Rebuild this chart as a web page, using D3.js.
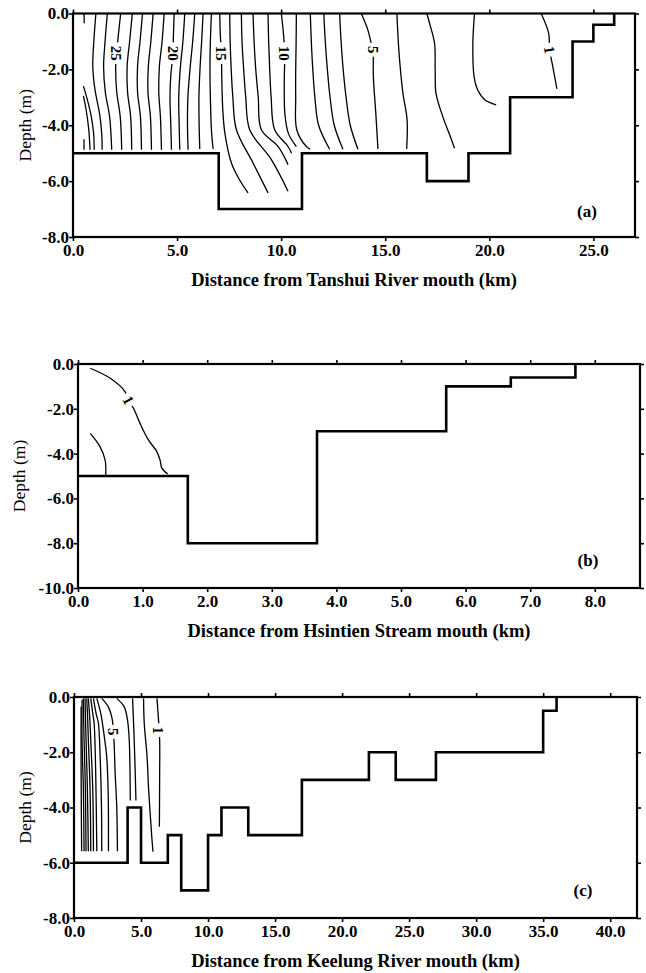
<!DOCTYPE html>
<html><head><meta charset="utf-8">
<script src="https://cdn.jsdelivr.net/npm/d3@7"></script>
<style>
body{margin:0;background:#fff;}
svg{display:block;}
text{font-family:"Liberation Serif","Times New Roman",serif;fill:#000;}
</style></head><body>
<svg id="chart" width="646" height="973"></svg>
<script>
// ---------------- DATA ----------------
// Panel (a) Tanshui River
const ticksA_x = [0, 5, 10, 15, 20, 25];
const ticksA_y = [0, -2, -4, -6, -8];
const bedA_x = [0, 7, 11, 17, 19, 21, 24, 25, 26];
const bedA_d = [-5, -7, -5, -6, -5, -3, -1, -0.4];
const contA = [
  {v:1,  pts:[[22.49,0],[22.85,-0.7],[22.9,-1.3],[23.05,-1.9],[23.25,-2.7]]},
  {v:2,  pts:[[19.29,0],[19.21,-1.07],[19.27,-2.26],[19.45,-2.75],[19.8,-3.1],[20.33,-3.27]]},
  {v:3,  pts:[[17.0,0],[17.13,-0.35],[17.37,-1.07],[17.4,-2.0],[17.44,-2.86],[17.77,-3.7],[18.1,-4.35],[18.33,-4.82]]},
  {v:4,  pts:[[15.56,0],[15.62,-0.9],[15.69,-1.66],[15.85,-2.85],[16.05,-3.8],[16.03,-4.85]]},
  {v:5,  pts:[[13.85,0],[14.15,-0.55],[14.33,-1.07],[14.41,-1.3],[14.43,-2.26],[14.55,-3.6],[14.65,-4.85]]},
  {v:6,  pts:[[12.81,0],[12.88,-1],[12.98,-2],[13.12,-3],[13.32,-4],[13.69,-4.86]]},
  {v:7,  pts:[[12.05,0],[12.12,-1],[12.22,-2],[12.35,-3],[12.55,-4],[12.97,-4.86]]},
  {v:8,  pts:[[11.4,0],[11.45,-1],[11.52,-2],[11.62,-3],[11.8,-4],[12.33,-4.86]]},
  {v:9,  pts:[[10.73,0],[10.72,-1],[10.7,-2],[10.7,-3],[10.75,-4.16],[11.21,-4.76],[11.4,-4.86]]},
  {v:10, pts:[[10.01,0],[10.12,-0.8],[10.17,-1.42],[10.15,-2.5],[10.18,-3.6],[10.35,-4.3],[10.73,-4.76]]},
  {v:11, pts:[[9.37,0],[9.4,-1],[9.45,-2],[9.52,-3],[9.69,-4.16],[10.33,-4.76],[10.5,-5.0]]},
  {v:12, pts:[[8.65,0],[8.7,-1],[8.78,-2],[8.9,-3],[9.05,-4.16],[9.85,-4.76],[10.33,-5.41]]},
  {v:13, pts:[[8.09,0],[8.12,-1],[8.2,-2],[8.3,-3],[8.49,-4.16],[9.53,-5.23],[10.33,-6.36]]},
  {v:14, pts:[[7.53,0],[7.55,-1],[7.6,-2],[7.68,-3],[7.85,-4.16],[8.65,-5.35],[9.37,-6.42]]},
  {v:15, pts:[[7.05,0],[7.08,-0.8],[7.13,-1.42],[7.15,-2.4],[7.2,-3.5],[7.3,-4.3],[7.61,-5.35],[8.0,-5.95],[8.41,-6.42]]},
  {v:16, pts:[[6.65,0],[6.6,-1],[6.58,-2],[6.6,-3],[6.65,-4.16],[6.73,-4.85]]},
  {v:17, pts:[[6.25,0],[6.18,-1],[6.1,-2],[6.05,-3],[6.06,-4],[6.09,-4.85]]},
  {v:18, pts:[[5.85,0],[5.75,-1],[5.62,-2],[5.52,-3],[5.5,-4],[5.53,-4.88]]},
  {v:19, pts:[[5.37,0],[5.28,-1],[5.15,-2],[5.08,-3],[5.1,-4],[5.13,-4.88]]},
  {v:20, pts:[[4.86,0],[4.82,-0.9],[4.81,-1.42],[4.7,-2.2],[4.66,-3.0],[4.7,-4.0],[4.73,-4.88]]},
  {v:21, pts:[[4.38,0],[4.28,-1],[4.15,-1.9],[4.12,-2.8],[4.2,-3.7],[4.25,-4.88]]},
  {v:22, pts:[[3.85,0],[3.74,-1],[3.62,-1.9],[3.6,-2.8],[3.72,-3.7],[3.77,-4.88]]},
  {v:23, pts:[[3.34,0],[3.22,-1],[3.1,-1.9],[3.1,-2.8],[3.24,-3.7],[3.29,-4.88]]},
  {v:24, pts:[[2.85,0],[2.72,-1],[2.6,-1.9],[2.62,-2.8],[2.77,-3.7],[2.82,-4.88]]},
  {v:25, pts:[[2.29,0],[2.16,-0.9],[2.09,-1.42],[2.05,-2.0],[2.1,-2.8],[2.27,-3.7],[2.34,-4.88]]},
  {v:26, pts:[[1.65,0],[1.54,-1],[1.47,-1.9],[1.55,-2.8],[1.76,-3.7],[1.86,-4.88]]},
  {v:27, pts:[[1.10,0],[1.0,-1],[0.95,-1.9],[1.05,-2.7],[1.28,-3.6],[1.38,-4.3],[1.40,-4.88]]},
  {v:28, pts:[[0.53,0],[0.54,-0.35]]},
  {v:28, pts:[[0.5,-2.6],[0.66,-3.0],[0.88,-3.7],[0.99,-4.3],[1.02,-4.88]]},
  {v:29, pts:[[0.5,-2.95],[0.62,-3.4],[0.75,-4.1],[0.82,-4.88]]},
  {v:30, pts:[[0.53,-4.5],[0.53,-4.88]]}
];
const labA = [
  {t:"25", x:2.09, d:-1.42, r:90},
  {t:"20", x:4.81, d:-1.42, r:90},
  {t:"15", x:7.13, d:-1.42, r:90},
  {t:"10", x:10.17, d:-1.42, r:90},
  {t:"5",  x:14.41, d:-1.3, r:90},
  {t:"1",  x:22.89, d:-1.3, r:80}
];

// Panel (b) Hsintien Stream
const ticksB_x = [0, 1, 2, 3, 4, 5, 6, 7, 8];
const ticksB_y = [0, -2, -4, -6, -8, -10];
const bedB_x = [0, 1.7, 3.7, 5.7, 6.7, 7.7];
const bedB_d = [-5, -8, -3, -1, -0.6];
const contB = [
  {v:1, pts:[[0.19,-0.19],[0.5,-0.64],[0.73,-1.24],[0.78,-1.61],[0.86,-1.98],[0.96,-2.65],[1.09,-3.39],[1.22,-3.91],[1.27,-4.29],[1.3,-4.66],[1.39,-4.91]]},
  {v:2, pts:[[0.19,-3.1],[0.34,-3.69],[0.42,-4.29],[0.43,-4.96]]}
];
const labB = [ {t:"1", x:0.78, d:-1.61, r:62} ];

// Panel (c) Keelung River
const ticksC_x = [0, 5, 10, 15, 20, 25, 30, 35, 40];
const ticksC_y = [0, -2, -4, -6, -8];
const bedC_x = [0, 4, 5, 7, 8, 10, 11, 13, 17, 22, 24, 27, 35, 36];
const bedC_d = [-6, -4, -6, -5, -7, -5, -4, -5, -3, -2, -3, -2, -0.5];
const contC = [
  {v:1,  pts:[[6.19,-0.05],[6.3,-0.8],[6.39,-1.56],[6.39,-2.77],[6.38,-3.8],[6.37,-4.7]]},
  {v:2,  pts:[[5.19,-0.05],[5.24,-0.95],[5.45,-2.16],[5.57,-3.37],[5.82,-5.18],[5.89,-5.6]]},
  {v:3,  pts:[[4.37,-0.05],[4.44,-0.9],[4.49,-1.56],[4.57,-2.77],[4.62,-3.75]]},
  {v:4,  pts:[[3.19,-0.05],[3.74,-0.35],[3.99,-0.83],[4.12,-1.56],[4.18,-2.77],[4.2,-3.75]]},
  {v:5,  pts:[[2.07,-0.05],[2.55,-0.35],[2.85,-0.8],[2.94,-1.26],[3.0,-1.75],[3.07,-2.77],[3.19,-3.97],[3.24,-5.58]]},
  {v:6,  pts:[[1.70,-0.05],[2.0,-0.6],[2.25,-1.4],[2.44,-2.16],[2.55,-3.5],[2.57,-5.58]]},
  {v:7,  pts:[[1.45,-0.05],[1.65,-0.6],[1.82,-0.95],[1.95,-2.16],[2.05,-3.97],[2.07,-5.58]]},
  {v:8,  pts:[[1.25,-0.05],[1.4,-0.6],[1.5,-0.95],[1.62,-2.77],[1.70,-5.58]]},
  {v:9,  pts:[[1.07,-0.05],[1.18,-0.8],[1.25,-1.56],[1.4,-3.37],[1.45,-5.58]]},
  {v:10, pts:[[0.95,-0.05],[1.02,-0.8],[1.07,-1.56],[1.2,-3.37],[1.25,-5.58]]},
  {v:11, pts:[[0.82,-0.05],[0.86,-0.8],[0.9,-1.56],[1.0,-3.37],[1.07,-5.58]]},
  {v:12, pts:[[0.70,-0.05],[0.72,-0.8],[0.75,-1.56],[0.85,-3.37],[0.9,-5.58]]},
  {v:13, pts:[[0.6,-0.1],[0.6,-1.56],[0.7,-3.37],[0.75,-5.58]]},
  {v:14, pts:[[0.53,-0.35],[0.53,-2.7],[0.57,-5.58]]}
];
const labC = [ {t:"5", x:2.94, d:-1.26, r:90}, {t:"1", x:6.3, d:-1.2, r:90} ];

// ---------------- DRAW ----------------
const svg = d3.select("#chart");
svg.append("rect").attr("width",646).attr("height",973).attr("fill","#fff");

const panels = [
  {l:73, r:635, t:13.5, b:237, xd:[0,27], yd:[-8,0], xt:ticksA_x, yt:ticksA_y, bx:bedA_x, bd:bedA_d, cont:contA, lab:labA,
   title:"Distance from Tanshui River mouth (km)", tb:286, letter:"(a)", lx:587, ly:217, yl:25},
  {l:78, r:640, t:364, b:588, xd:[0,8.7], yd:[-10,0], xt:ticksB_x, yt:ticksB_y, bx:bedB_x, bd:bedB_d, cont:contB, lab:labB,
   title:"Distance from Hsintien Stream mouth (km)", tb:637, letter:"(b)", lx:588, ly:566, yl:19},
  {l:74, r:637, t:697, b:918, xd:[0,42], yd:[-8,0], xt:ticksC_x, yt:ticksC_y, bx:bedC_x, bd:bedC_d, cont:contC, lab:labC,
   title:"Distance from Keelung River mouth (km)", tb:967, letter:"(c)", lx:583, ly:896, yl:25}
];

const fmt = d => d.toFixed(1);

panels.forEach(p => {
  const x = d3.scaleLinear().domain(p.xd).range([p.l, p.r]);
  const y = d3.scaleLinear().domain(p.yd).range([p.b, p.t]);
  const g = svg.append("g");

  // contour lines
  const line = d3.line().x(d => x(d[0])).y(d => y(d[1])).curve(d3.curveCatmullRom.alpha(0.5));
  g.append("g").selectAll("path").data(p.cont).join("path")
    .attr("d", d => line(d.pts)).attr("fill","none").attr("stroke","#000").attr("stroke-width",1.3);

  // contour labels with white knockout
  const lg = g.append("g").selectAll("g").data(p.lab).join("g")
    .attr("transform", d => `translate(${x(d.x)},${y(d.d)}) rotate(${d.r})`);
  lg.append("rect").attr("x", d => -d.t.length*3.9-3).attr("y",-6)
    .attr("width", d => d.t.length*7.8+6).attr("height",12).attr("fill","#fff");
  lg.append("text").attr("text-anchor","middle").attr("dy","0.35em")
    .attr("font-size",15).attr("font-weight","bold").text(d => d.t);

  // river bed step profile
  const pts = [];
  for (let i = 0; i < p.bd.length; i++) {
    pts.push([p.bx[i], p.bd[i]]);
    pts.push([p.bx[i+1], p.bd[i]]);
  }
  pts.push([p.bx[p.bx.length-1], 0]);
  g.append("path").attr("d", d3.line().x(d => x(d[0])).y(d => y(d[1]))(pts))
    .attr("fill","none").attr("stroke","#000").attr("stroke-width",2.6).attr("stroke-linejoin","miter");

  // axes
  const styleAxis = sel => {
    sel.select(".domain").remove();
    sel.selectAll(".tick line").attr("stroke","#000").attr("stroke-width",1.6);
    sel.selectAll("text").attr("font-size",17).attr("font-weight","bold")
      .attr("font-family",'"Liberation Serif","Times New Roman",serif');
  };
  g.append("g").attr("transform",`translate(0,${p.b})`)
    .call(d3.axisBottom(x).tickValues(p.xt).tickFormat(fmt).tickSize(4).tickSizeOuter(0).tickPadding(3)).call(styleAxis);
  g.append("g").attr("transform",`translate(0,${p.t})`)
    .call(d3.axisTop(x).tickValues(p.xt).tickFormat("").tickSize(4).tickSizeOuter(0)).call(styleAxis);
  g.append("g").attr("transform",`translate(${p.l},0)`)
    .call(d3.axisLeft(y).tickValues(p.yt).tickFormat(fmt).tickSize(4).tickSizeOuter(0).tickPadding(0)).call(styleAxis);
  g.append("g").attr("transform",`translate(${p.r},0)`)
    .call(d3.axisRight(y).tickValues(p.yt).tickFormat("").tickSize(4).tickSizeOuter(0)).call(styleAxis);

  // frame
  g.append("rect").attr("x",p.l).attr("y",p.t).attr("width",p.r-p.l).attr("height",p.b-p.t)
    .attr("fill","none").attr("stroke","#000").attr("stroke-width",2.2);

  // titles
  g.append("text").attr("x",(p.l+p.r)/2).attr("y",p.tb).attr("text-anchor","middle")
    .attr("font-size",18.5).attr("font-weight","bold").text(p.title);
  g.append("text").attr("transform",`translate(${p.yl},${(p.t+p.b)/2}) rotate(-90)`)
    .attr("text-anchor","middle").attr("dy","0.35em").attr("font-size",17.5).text("Depth (m)");
  g.append("text").attr("x",p.lx).attr("y",p.ly).attr("text-anchor","middle")
    .attr("font-size",17).attr("font-weight","bold").text(p.letter);
});
</script>
</body></html>
